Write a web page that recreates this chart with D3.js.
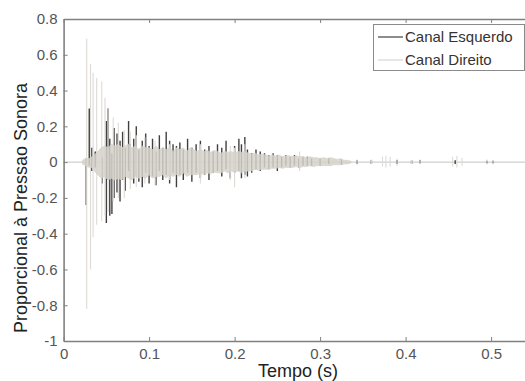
<!DOCTYPE html>
<html><head><meta charset="utf-8">
<script src="https://cdn.jsdelivr.net/npm/d3@7"></script>
<style>
html,body{margin:0;padding:0;background:#fff;}
svg{display:block;font-family:"Liberation Sans",Arial,sans-serif;}
</style></head>
<body><svg id="c" width="525" height="381"></svg>
<script>
// ---- data ----
const xTicks = [0, 0.1, 0.2, 0.3, 0.4, 0.5];
const yTicks = [-1, -0.8, -0.6, -0.4, -0.2, 0, 0.2, 0.4, 0.6, 0.8];
const seriesNames = ["Canal Esquerdo", "Canal Direito"];

// Left channel (dark): [time, max, min] peak segments
const leftPeaks = [
 [0.0265,0.02,-0.24],[0.0300,0.30,-0.02],[0.0330,0.08,-0.05],[0.0370,0.06,-0.03],
 [0.0450,0.03,-0.12],[0.0500,0.23,-0.34],[0.0520,0.30,-0.10],[0.0540,0.13,-0.30],
 [0.0565,0.05,-0.29],[0.0590,0.19,-0.20],[0.0625,0.16,-0.17],[0.0660,0.12,-0.22],
 [0.0690,0.17,-0.10],[0.0720,0.08,-0.16],[0.0760,0.23,-0.05],[0.0780,0.10,-0.09],
 [0.0820,0.13,-0.12],[0.0850,0.20,-0.08],[0.0880,0.07,-0.11],[0.0920,0.12,-0.14],
 [0.0960,0.16,-0.06],[0.1000,0.09,-0.12],[0.1040,0.13,-0.08],[0.1080,0.06,-0.13],
 [0.1120,0.15,-0.05],[0.1160,0.08,-0.10],[0.1200,0.17,-0.07],[0.1240,0.12,-0.12],
 [0.1280,0.10,-0.06],[0.1320,0.09,-0.14],[0.1360,0.11,-0.07],[0.1400,0.07,-0.10],
 [0.1450,0.13,-0.06],[0.1500,0.08,-0.11],[0.1550,0.10,-0.06],[0.1600,0.12,-0.09],
 [0.1650,0.07,-0.07],[0.1700,0.09,-0.10],[0.1750,0.06,-0.06],[0.1800,0.10,-0.05],
 [0.1850,0.08,-0.08],[0.1900,0.12,-0.04],[0.1950,0.05,-0.09],[0.2000,0.09,-0.06],
 [0.2050,0.13,-0.05],[0.2080,0.10,-0.09],[0.2120,0.14,-0.07],[0.2150,0.07,-0.08],
 [0.2200,0.05,-0.06],[0.2250,0.07,-0.04],[0.2300,0.06,-0.05],[0.2350,0.05,-0.03],
 [0.2400,0.04,-0.04],[0.2450,0.05,-0.03],[0.2500,0.04,-0.05],[0.2550,0.03,-0.03],
 [0.2600,0.04,-0.02],[0.2650,0.03,-0.03],[0.2700,0.04,-0.02],[0.2750,0.02,-0.03],
 [0.2800,0.03,-0.02],[0.2850,0.03,-0.02],[0.2900,0.02,-0.02],[0.3000,0.02,-0.02],
 [0.3100,0.02,-0.01],[0.3250,0.015,-0.015],[0.3430,0.01,-0.01],[0.3600,0.012,-0.01],
 [0.3900,0.012,-0.01],[0.4070,0.01,-0.01],[0.4170,0.012,-0.008],[0.4580,0.01,-0.01],
 [0.4950,0.008,-0.008],[0.5020,0.008,-0.008]
];

// Right channel (light): dense envelope [time, max, min]
const rightBand = [
 [0.022,0.01,-0.01],[0.026,0.02,-0.02],[0.030,0.02,-0.03],[0.033,0.03,-0.03],
 [0.036,0.04,-0.05],[0.040,0.06,-0.07],[0.044,0.08,-0.09],[0.048,0.09,-0.08],
 [0.052,0.08,-0.10],[0.056,0.10,-0.09],[0.060,0.09,-0.10],[0.064,0.10,-0.09],
 [0.068,0.08,-0.10],[0.072,0.09,-0.08],[0.076,0.10,-0.09],[0.080,0.08,-0.10],
 [0.084,0.09,-0.08],[0.088,0.07,-0.09],[0.092,0.09,-0.08],[0.096,0.08,-0.09],
 [0.100,0.08,-0.07],[0.104,0.07,-0.09],[0.108,0.09,-0.08],[0.112,0.07,-0.08],
 [0.116,0.08,-0.07],[0.120,0.07,-0.09],[0.124,0.08,-0.07],[0.128,0.06,-0.08],
 [0.132,0.08,-0.07],[0.136,0.07,-0.08],[0.140,0.08,-0.06],[0.144,0.06,-0.08],
 [0.148,0.08,-0.07],[0.152,0.07,-0.07],[0.156,0.06,-0.07],[0.160,0.07,-0.06],
 [0.164,0.06,-0.07],[0.168,0.065,-0.06],[0.172,0.055,-0.065],[0.176,0.065,-0.055],
 [0.180,0.06,-0.06],[0.184,0.05,-0.06],[0.188,0.06,-0.05],[0.192,0.055,-0.06],
 [0.196,0.06,-0.05],[0.200,0.05,-0.055],[0.204,0.06,-0.05],[0.208,0.055,-0.06],
 [0.212,0.06,-0.05],[0.216,0.05,-0.05],[0.220,0.045,-0.05],[0.224,0.05,-0.04],
 [0.228,0.04,-0.045],[0.232,0.045,-0.04],[0.236,0.04,-0.04],[0.240,0.035,-0.04],
 [0.244,0.04,-0.035],[0.248,0.035,-0.035],[0.252,0.04,-0.03],[0.256,0.03,-0.035],
 [0.260,0.035,-0.03],[0.264,0.035,-0.03],[0.268,0.03,-0.03],[0.272,0.035,-0.025],
 [0.276,0.03,-0.03],[0.280,0.03,-0.025],[0.284,0.025,-0.025],[0.288,0.03,-0.02],
 [0.292,0.025,-0.025],[0.296,0.025,-0.02],[0.300,0.02,-0.02],[0.304,0.025,-0.02],
 [0.308,0.02,-0.02],[0.312,0.025,-0.02],[0.316,0.02,-0.015],[0.320,0.015,-0.015],
 [0.324,0.02,-0.015],[0.328,0.01,-0.01],[0.332,0.01,-0.01],[0.336,0.005,-0.005]
];

// Right channel (light): isolated peaks [time, max, min]
const rightPeaks = [
 [0.0270,0.69,-0.82],[0.0315,0.55,-0.60],[0.0345,0.50,-0.42],[0.0387,0.47,-0.35],
 [0.0446,0.45,-0.33],[0.0484,0.36,-0.30],[0.0520,0.30,-0.28],[0.0580,0.25,-0.22],
 [0.0640,0.22,-0.20],[0.0710,0.18,-0.20],[0.0780,0.17,-0.15],[0.0850,0.15,-0.14],
 [0.0950,0.14,-0.12],[0.1070,0.12,-0.13],[0.1240,0.10,-0.10],[0.1600,0.10,-0.12],
 [0.1950,0.09,-0.10],[0.2000,0.08,-0.14],[0.2120,0.10,-0.09],[0.2760,0.06,-0.05],
 [0.3430,0.015,-0.015],[0.3600,0.015,-0.012],[0.3730,0.03,-0.025],[0.3770,0.035,-0.03],
 [0.3820,0.03,-0.025],[0.3900,0.02,-0.02],[0.4070,0.012,-0.01],[0.4170,0.015,-0.01],
 [0.4550,0.03,-0.025],[0.4600,0.035,-0.03],[0.4660,0.025,-0.02],[0.4950,0.015,-0.012],
 [0.5020,0.012,-0.01]
];

// ---- chart ----
const W = 525, H = 381;
const svg = d3.select("#c");
const x = d3.scaleLinear().domain([0, 0.54]).range([63.6, 525.3]);
const y = d3.scaleLinear().domain([-1, 0.8]).range([341, 19]);
const darkC = "#404040", lightC = "#d6d2cb", axisC = "#808080";

const clipId = "plotclip";
svg.append("clipPath").attr("id", clipId).append("rect")
  .attr("x", x(0)).attr("y", y(0.8)).attr("width", W - x(0)).attr("height", y(-1) - y(0.8));
const plot = svg.append("g").attr("clip-path", `url(#${clipId})`);

// left channel (drawn first)
plot.append("line").attr("x1", x(0.0)).attr("x2", x(0.54)).attr("y1", y(0)).attr("y2", y(0))
  .attr("stroke", "#c4c4c4").attr("stroke-width", 1);
plot.selectAll("line.lp").data(leftPeaks).join("line").attr("class", "lp")
  .attr("x1", d => x(d[0])).attr("x2", d => x(d[0]))
  .attr("y1", d => y(d[1])).attr("y2", d => y(d[2]))
  .attr("stroke", darkC).attr("stroke-width", 1.4);

// right channel on top
plot.selectAll("line.rp").data(rightPeaks).join("line").attr("class", "rp")
  .attr("x1", d => x(d[0])).attr("x2", d => x(d[0]))
  .attr("y1", d => y(d[1])).attr("y2", d => y(d[2]))
  .attr("stroke", "#dedad5").attr("stroke-width", 1.1);
const area = d3.area().x(d => x(d[0])).y0(d => y(d[2])).y1(d => y(d[1]));
plot.append("path").datum(rightBand).attr("d", area)
  .attr("fill", lightC).attr("fill-opacity", 0.85)
  .attr("stroke", lightC).attr("stroke-opacity", 0.85).attr("stroke-width", 0.8);

// axes
const fmt = v => String(+v.toFixed(1));
const ax = g => {
  g.select(".domain").attr("stroke", axisC).attr("stroke-width", 1.6);
  g.selectAll(".tick line").attr("stroke", axisC).attr("stroke-width", 1);
  g.selectAll(".tick text").attr("fill", "#555").style("font-size", "15px")
    .style("font-family", '"Liberation Sans",Arial,sans-serif');
};
svg.append("g").attr("transform", `translate(0,${y(-1)})`)
  .call(d3.axisBottom(x).tickValues(xTicks).tickFormat(fmt).tickSizeInner(-4).tickSizeOuter(0).tickPadding(7))
  .call(ax);
svg.append("g").attr("transform", `translate(${x(0)},0)`)
  .call(d3.axisLeft(y).tickValues(yTicks).tickFormat(fmt).tickSizeInner(-4).tickSizeOuter(0).tickPadding(6))
  .call(ax);
svg.append("g").attr("transform", `translate(0,${y(0.8)})`)
  .call(d3.axisTop(x).tickValues(xTicks).tickFormat("").tickSizeInner(-4).tickSizeOuter(0))
  .call(ax);

// axis titles
svg.append("text").attr("x", 298).attr("y", 377)
  .attr("text-anchor", "middle").attr("fill", "#222").style("font-size", "18px").text("Tempo (s)");
svg.append("text").attr("transform", `translate(27,${(y(0.8) + y(-1)) / 2 + 28}) rotate(-90)`)
  .attr("text-anchor", "middle").attr("fill", "#222").style("font-size", "18px")
  .text("Proporcional à Pressao Sonora");

// legend
const lg = svg.append("g");
lg.append("rect").attr("x", 373.5).attr("y", 24.5).attr("width", 151).attr("height", 46)
  .attr("fill", "#fff").attr("stroke", "#8a8a8a").attr("stroke-width", 1);
const legendColors = [darkC, "#d6d6d6"];
seriesNames.forEach((n, i) => {
  const yy = 37 + i * 23;
  lg.append("line").attr("x1", 378).attr("x2", 403).attr("y1", yy).attr("y2", yy)
    .attr("stroke", legendColors[i]).attr("stroke-width", 1.2);
  lg.append("text").attr("x", 405).attr("y", yy).attr("dy", "0.35em")
    .attr("fill", "#333").style("font-size", "15px").text(n);
});
</script></body></html>
